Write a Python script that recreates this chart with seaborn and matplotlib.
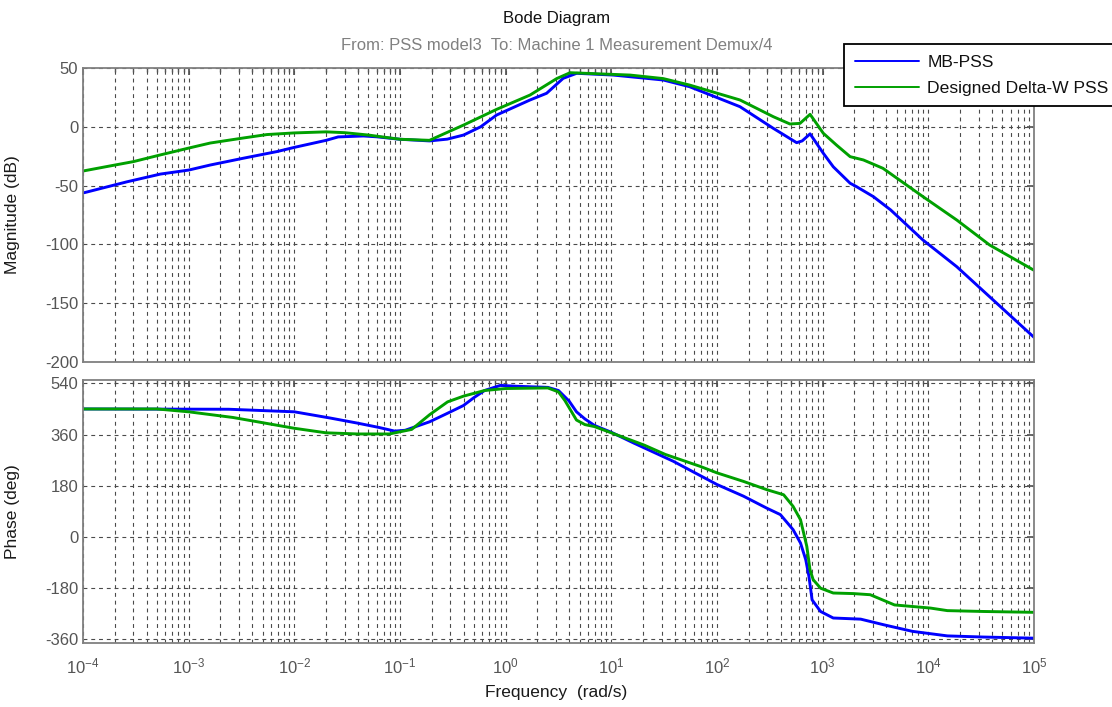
import numpy as np
import pandas as pd
import matplotlib
matplotlib.use("Agg")
import matplotlib.pyplot as plt
from matplotlib.ticker import LogLocator, FixedLocator, NullFormatter, LogFormatterSciNotation
from matplotlib.lines import Line2D
import seaborn as sns

# ---- data -------------------------------------------------------------
series_names = ["MB-PSS", "Designed Delta-W PSS"]
series_colors = ["#0000FF", "#00A000"]

# magnitude, MB-PSS
mag_mb_w = [1e-4, 2.6e-4, 5.4e-4, 1e-3, 1.6e-3, 3.3e-3, 6.9e-3, 1e-2, 0.02,
            0.026, 0.045, 0.06, 0.1, 0.19, 0.28, 0.4, 0.58, 0.82, 1.7, 2.44,
            3.5, 4.7, 10.4, 31, 55, 165, 341, 567, 640, 760, 1014, 1260, 1820,
            2100, 3020, 4400, 8900, 18600, 38000, 1e5]
mag_mb_db = [-56.3, -46.8, -40.2, -36.8, -32.5, -26.7, -21, -17.5, -11.5,
             -8.6, -7.8, -8.5, -10.6, -12, -10.5, -7, 0, 10, 22.8, 28.5,
             41.2, 45.5, 44, 39.8, 34.1, 17.1, -1.3, -13.5, -12, -6, -22.5, -34, -48,
             -51, -59.4, -70.7, -96.3, -119, -144.5, -179]

# magnitude, Designed Delta-W PSS
mag_dw_w = [1e-4, 1.8e-4, 3e-4, 5.4e-4, 1e-3, 1.6e-3, 3.3e-3, 5.5e-3, 1e-2,
            0.02, 0.03, 0.05, 0.1, 0.19, 0.4, 0.82, 1.7, 3.04, 4.07, 15, 31,
            55, 165, 341, 490, 610, 760, 1014, 1350, 1820, 2430, 3720, 8900,
            18600, 38000, 1e5]
mag_dw_db = [-37.6, -33.3, -29.6, -23.9, -18.1, -13.8, -9.5, -6.6, -5.2,
             -4.3, -5, -7, -10.6, -11.5, 1.5, 14.8, 27, 41, 46, 44, 41,
             35.5, 22.8, 8.6, 2.4, 2.9, 10.6, -5.5, -15.5, -25.4, -28.2, -35.3, -59.4,
             -79.3, -100.5, -122]

# phase, MB-PSS
ph_mb_w = [1e-4, 0.0024, 0.01, 0.0219, 0.0398, 0.0631, 0.0891, 0.112, 0.191,
           0.282, 0.398, 0.501, 0.631, 0.891, 1.26, 2.51, 3.16, 3.98, 4.68,
           5.62, 6.92, 10, 16.3, 38.5, 100, 178, 295, 398, 525, 617, 692, 741,
           794, 955, 1259, 2291, 3802, 7079, 15136, 33113, 1e5]
ph_mb_deg = [450, 449, 440, 418, 400, 385, 372, 375, 405,
             435, 462, 490, 515, 533, 530, 526, 515, 478, 440,
             415, 392, 368, 330, 266, 184, 143, 101, 78, 25, -22, -81, -139,
             -222, -263, -286, -290, -310, -333, -349, -353, -357]

# phase, Designed Delta-W PSS
ph_dw_w = [1e-4, 5e-4, 1e-3, 0.00263, 0.01, 0.02, 0.0398, 0.0794, 0.129,
           0.191, 0.282, 0.398, 0.631, 1, 2.51, 3.16, 3.63, 4.68, 5.62, 6.92,
           10, 20.4, 32.4, 69.2, 100, 178, 295, 427, 525, 617, 708, 759, 813,
           955, 1259, 1950, 2818, 4786, 10471, 15136, 33113, 1e5]
ph_dw_deg = [450, 450, 440, 420, 382, 366, 362, 362, 378,
             430, 475, 495, 515, 522, 524, 510, 480, 411, 395, 388,
             366, 323, 290, 248, 225, 195, 166, 148, 107, 60, -34, -116, -151,
             -181, -198, -200, -204, -240, -251, -260, -263, -266]

freq_ticks = [1e-4, 1e-3, 1e-2, 1e-1, 1e0, 1e1, 1e2, 1e3, 1e4, 1e5]
mag_ticks = [50, 0, -50, -100, -150, -200]
phase_ticks = [540, 360, 180, 0, -180, -360]

# ---- tidy tables ------------------------------------------------------
mag_df = pd.concat([
    pd.DataFrame({"freq": mag_mb_w, "value": mag_mb_db, "series": series_names[0]}),
    pd.DataFrame({"freq": mag_dw_w, "value": mag_dw_db, "series": series_names[1]}),
])
phase_df = pd.concat([
    pd.DataFrame({"freq": ph_mb_w, "value": ph_mb_deg, "series": series_names[0]}),
    pd.DataFrame({"freq": ph_dw_w, "value": ph_dw_deg, "series": series_names[1]}),
])

# ---- style ------------------------------------------------------------
sns.set_theme(style="white")
plt.rcParams["font.family"] = ["Liberation Sans", "DejaVu Sans"]
plt.rcParams["mathtext.default"] = "regular"
plt.rcParams["axes.unicode_minus"] = False
plt.rcParams["font.size"] = 12

W, H = 1112, 707
fig = plt.figure(figsize=(W / 100, H / 100), dpi=100)
fig.patch.set_facecolor("white")

left = 83 / W
width = (1034 - 83) / W
ax_mag = fig.add_axes([left, 1 - 362 / H, width, (362 - 68) / H])
ax_ph = fig.add_axes([left, 1 - 643 / H, width, (643 - 380) / H])

palette = dict(zip(series_names, series_colors))

for ax, df in ((ax_mag, mag_df), (ax_ph, phase_df)):
    sns.lineplot(data=df, x="freq", y="value", hue="series", palette=palette,
                 estimator=None, sort=False, linewidth=2.1, legend=False, ax=ax)

grid_kw = dict(color="#4a4a4a", linestyle=(0, (3.5, 3.5)), linewidth=0.8)
tick_color = "#555555"
for ax in (ax_mag, ax_ph):
    ax.set_xscale("log")
    ax.set_xlim(1e-4, 1e5)
    ax.xaxis.set_major_locator(FixedLocator(freq_ticks))
    ax.xaxis.set_major_formatter(LogFormatterSciNotation())
    ax.xaxis.set_minor_locator(LogLocator(base=10, subs=np.arange(2, 10), numticks=200))
    ax.xaxis.set_minor_formatter(NullFormatter())
    ax.grid(True, which="major", axis="both", **grid_kw)
    ax.grid(True, which="minor", axis="x", **grid_kw)
    ax.set_xlabel("")
    ax.set_ylabel("")
    ax.tick_params(which="both", direction="in", top=True, right=True,
                   colors="#555555", labelcolor=tick_color, labelsize=12)
    ax.tick_params(which="major", length=5)
    ax.tick_params(which="minor", length=3)
    ax.tick_params(axis="x", which="major", pad=10)
    for sp in ax.spines.values():
        sp.set_color("#808080")
        sp.set_linewidth(1.3)
    ax.set_axisbelow(True)

ax_mag.set_ylim(-200, 50)
ax_mag.yaxis.set_major_locator(FixedLocator(mag_ticks))
ax_mag.tick_params(axis="x", labelbottom=False)

ax_ph.set_ylim(-374, 552)
ax_ph.yaxis.set_major_locator(FixedLocator(phase_ticks))

ax_mag.set_ylabel("Magnitude (dB)", fontsize=12.5, color="#1a1a1a")
ax_ph.set_ylabel("Phase (deg)", fontsize=12.5, color="#1a1a1a")
ax_mag.yaxis.set_label_coords(-63 / (1034 - 83), 0.5)
ax_ph.yaxis.set_label_coords(-63 / (1034 - 83), 0.5)

fig.text(0.5, 1 - 693 / H, "Frequency  (rad/s)", ha="center", va="center",
         fontsize=12.5, color="#1a1a1a")
fig.text((83 + 1034) / 2 / W - 0.002, 1 - 19 / H, "Bode Diagram", ha="center",
         va="center", fontsize=12, color="#111111")
fig.text((83 + 1034) / 2 / W - 0.002, 1 - 46 / H,
         "From: PSS model3  To: Machine 1 Measurement Demux/4",
         ha="center", va="center", fontsize=12, color="#808080")

handles = [Line2D([], [], color=series_colors[0], linewidth=1.4),
           Line2D([], [], color=series_colors[1], linewidth=1.4)]
leg = fig.legend(handles, series_names, loc="upper left",
                 bbox_to_anchor=(844 / W, 1 - 44 / H), borderaxespad=0,
                 frameon=True, fancybox=False, framealpha=1, edgecolor="black",
                 handlelength=3.7, handletextpad=0.45, borderpad=0.6,
                 labelspacing=0.62, fontsize=12.6)
leg.get_frame().set_linewidth(1.3)
for t in leg.get_texts():
    t.set_color("#111111")

fig.savefig("out.png", dpi=100, facecolor="white")
